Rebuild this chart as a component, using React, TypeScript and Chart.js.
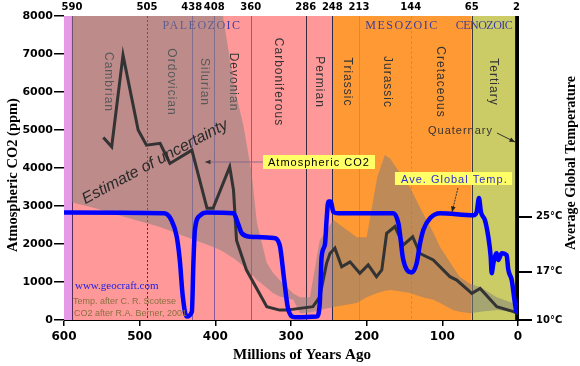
import React, { useEffect, useRef } from "react";
import { Chart, registerables } from "chart.js";
Chart.register(...registerables);

// ---- Data (millions of years ago) ----
const co2Age = [548, 537, 522, 502, 491, 473, 460, 431, 411, 403, 381, 376, 372, 359, 332, 315, 306, 271, 262, 253, 248.5, 242, 233, 222, 209, 198, 187, 180, 173.6, 162.6, 151.6, 139.2, 129.5, 112, 90, 81, 61, 50, 28, 6, 0];
const co2Ppm = [4800, 4560, 6970, 5000, 4600, 4650, 4120, 4470, 2940, 2940, 4030, 3420, 2100, 1320, 350, 260, 260, 350, 610, 1490, 1750, 1890, 1400, 1530, 1230, 1450, 1140, 1320, 2280, 2460, 1970, 2190, 1750, 1580, 1140, 1050, 700, 830, 350, 220, 170];

const tempAge = [600, 468, 458, 451, 447, 443, 438, 431, 429, 427, 420, 411, 376, 370, 365, 354, 323, 315, 309, 304, 295, 266, 262, 259.5, 255, 253, 250.7, 247.6, 244, 237.5, 165, 158, 155, 152.4, 147, 140.5, 134, 129.5, 125, 116, 103, 59, 54.6, 51.6, 49, 43.7, 39.3, 36.1, 34.8, 32.6, 28.2, 26, 21.5, 15, 12.8, 8.3, 4, 1.7, 0];
const tempC = [25.6, 25.5, 24.5, 22.1, 18.7, 13.4, 10.5, 11.2, 18.2, 23.1, 25.2, 25.6, 25.5, 24.0, 22.6, 22.1, 21.9, 20.9, 15.8, 11.7, 10.4, 10.5, 12.4, 19.2, 21.1, 24.5, 27.2, 27.2, 25.7, 25.5, 25.5, 24.0, 21.6, 19.2, 17.3, 16.9, 18.2, 21.1, 23.1, 24.8, 25.5, 25.2, 25.7, 27.7, 25.7, 24.5, 22.1, 19.2, 16.8, 18.2, 19.7, 18.7, 19.7, 19.4, 17.3, 15.8, 12.4, 11.2, 12.4];

const uncAge = [590, 560, 539, 500, 473, 440, 400, 390, 374, 363, 352, 345, 332, 324, 315, 297, 288, 275, 262, 244, 213, 200, 186, 176, 169, 165, 143, 126, 112, 103, 86, 77, 63, 50, 28, 7, 0];
const uncHigh = [9000, 9000, 9000, 9000, 9000, 9000, 9000, 8000, 6050, 5130, 3870, 2550, 1500, 1250, 1050, 700, 600, 600, 2100, 2630, 2180, 2180, 3760, 4340, 4250, 4130, 3500, 2820, 2300, 1920, 1400, 1130, 950, 870, 600, 450, 450];
const uncLow = [3100, 2950, 2820, 2600, 2450, 2200, 1900, 1800, 1600, 1420, 1200, 1050, 850, 710, 620, 530, 180, 200, 260, 340, 450, 600, 710, 770, 790, 780, 710, 600, 530, 450, 260, 220, 180, 220, 260, 210, 210];

// Period boundaries as drawn, with their top labels
const boundaryAge = [589.4, 490.3, 431.2, 401.4, 353.3, 280.6, 245.4, 210.1, 141.8, 61.2, 2];
const boundaryLabels = ["590", "505", "438", "408", "360", "286", "248", "213", "144", "65", "2"];

// Era colour bands
const bandFrom = [600, 589.4, 245.4, 61.2, 3.8];
const bandTo = [589.4, 245.4, 61.2, 3.8, 0];
const bandColor = ["#E699E6", "#FF9999", "#FF9933", "#CCCC66", "#000000"];

const periodNames = ["Cambrian", "Ordovician", "Silurian", "Devonian", "Carboniferous", "Permian", "Triassic", "Jurassic", "Cretaceous", "Tertiary"];
const periodLabelAge = [541.9, 458.6, 415, 376.7, 317.2, 263, 226, 173.1, 103.1, 33];

const eraNames = ["PALEOZOIC", "MESOZOIC", "CENOZOIC"];
const eraLabelAge = [417.6, 153.3, 44.9];

const xTicks = [600, 500, 400, 300, 200, 100, 0];
const yTicks = [0, 1000, 2000, 3000, 4000, 5000, 6000, 7000, 8000];
const tempTicks = [10, 17, 25];

const lineColors = ["#5a2a5a", "#3a3a3a", "#8a5a9a", "#8a5a9a", "#8a5a9a", "#3a2a3a", "#2a2a50", "#b89a3a", "#b89a3a", "#3a3a3a"];
const lineDash = [[], [2, 2], [], [], [], [], [], [], [3, 2], []];

function arrow(ctx: CanvasRenderingContext2D, x1: number, y1: number, x2: number, y2: number, color: string, head: string, dash: number[] = []) {
  ctx.save();
  ctx.strokeStyle = color;
  ctx.lineWidth = 1;
  ctx.setLineDash(dash);
  ctx.beginPath();
  ctx.moveTo(x1, y1);
  ctx.lineTo(x2, y2);
  ctx.stroke();
  ctx.setLineDash([]);
  const a = Math.atan2(y2 - y1, x2 - x1);
  const L = 6;
  ctx.fillStyle = head;
  ctx.beginPath();
  ctx.moveTo(x2, y2);
  ctx.lineTo(x2 - L * Math.cos(a - 0.4), y2 - L * Math.sin(a - 0.4));
  ctx.lineTo(x2 - L * Math.cos(a + 0.4), y2 - L * Math.sin(a + 0.4));
  ctx.closePath();
  ctx.fill();
  ctx.restore();
}

const decor = {
  id: "decor",
  beforeDatasetsDraw(chart: any) {
    const { ctx, chartArea: a, scales } = chart;
    const x = scales.x, y = scales.y;
    ctx.save();
    ctx.beginPath();
    ctx.rect(a.left, a.top, a.right - a.left, a.bottom - a.top);
    ctx.clip();
    for (let i = 0; i < bandFrom.length; i++) {
      const x1 = x.getPixelForValue(bandFrom[i]);
      const x2 = x.getPixelForValue(bandTo[i]);
      ctx.fillStyle = bandColor[i];
      ctx.fillRect(x1, a.top, x2 - x1, a.bottom - a.top);
    }
    for (let i = 0; i < lineColors.length; i++) {
      const px = Math.round(x.getPixelForValue(boundaryAge[i])) + 0.5;
      ctx.strokeStyle = lineColors[i];
      ctx.lineWidth = 1;
      ctx.setLineDash(lineDash[i]);
      ctx.beginPath();
      ctx.moveTo(px, a.top);
      ctx.lineTo(px, a.bottom);
      ctx.stroke();
    }
    ctx.setLineDash([]);
    // period names
    ctx.fillStyle = "#333333";
    ctx.font = '12px "Liberation Sans"';
    (ctx as any).letterSpacing = "1px";
    ctx.textAlign = "center";
    ctx.textBaseline = "middle";
    for (let i = 0; i < periodNames.length; i++) {
      ctx.save();
      ctx.translate(x.getPixelForValue(periodLabelAge[i]), y.getPixelForValue(6263));
      ctx.rotate(Math.PI / 2);
      ctx.fillText(periodNames[i], 0, 0);
      ctx.restore();
    }
    // era names
    ctx.fillStyle = "#3d3d9e";
    ctx.font = '12px "Liberation Serif"';
    const spacing = ["1.5px", "1.5px", "-0.5px"];
    for (let i = 0; i < eraNames.length; i++) {
      (ctx as any).letterSpacing = spacing[i];
      ctx.fillText(eraNames[i], x.getPixelForValue(eraLabelAge[i]), y.getPixelForValue(7737));
    }
    ctx.restore();
  },
  afterDatasetsDraw(chart: any) {
    const { ctx, scales } = chart;
    const x = scales.x, y = scales.y;
    const P = (m: number, v: number) => [x.getPixelForValue(m), y.getPixelForValue(v)];
    ctx.save();
    // Estimate of uncertainty
    const [ex, ey] = P(479.7, 4158);
    ctx.save();
    ctx.translate(ex, ey);
    ctx.rotate((-28 * Math.PI) / 180);
    ctx.font = 'italic 16px "Liberation Sans"';
    ctx.fillStyle = "#2a2a2a";
    ctx.textAlign = "center";
    ctx.textBaseline = "middle";
    ctx.fillText("Estimate of uncertainty", 0, 0);
    ctx.restore();

    // CO2 label box
    const [b1x, b1y] = P(337, 4342);
    const [b2x, b2y] = P(189, 3974);
    ctx.fillStyle = "#FFFF66";
    ctx.fillRect(b1x, b1y, b2x - b1x, b2y - b1y);
    const [ax1, ay1] = P(337, 4158);
    const [ax2, ay2] = P(413.7, 4158);
    arrow(ctx, ax1, ay1, ax2, ay2, "#8a6a8a", "#333333");
    ctx.font = '11px "Liberation Sans"';
    (ctx as any).letterSpacing = "1px";
    ctx.fillStyle = "#000000";
    ctx.textAlign = "left";
    ctx.textBaseline = "middle";
    const [t1x, t1y] = P(330.4, 4158);
    ctx.fillText("Atmospheric CO2", t1x, t1y + 1);

    // Temp label box
    const [c1x, c1y] = P(162.6, 3895);
    const [c2x, c2y] = P(7.9, 3553);
    ctx.fillStyle = "#FFFF66";
    ctx.fillRect(c1x, c1y, c2x - c1x, c2y - c1y);
    ctx.fillStyle = "#3030D0";
    const [t2x, t2y] = P(154.6, 3724);
    ctx.fillText("Ave. Global Temp.", t2x, t2y + 1);
    const [q1x, q1y] = P(79.3, 3474);
    const [q2x, q2y] = P(87.2, 2842);
    arrow(ctx, q1x, q1y, q2x, q2y, "#333333", "#222222", [2, 1]);

    // Quaternary
    ctx.fillStyle = "#333333";
    ctx.textAlign = "center";
    const [t3x, t3y] = P(76, 4974);
    ctx.fillText("Quaternary", t3x, t3y);
    const [r1x, r1y] = P(27.8, 4921);
    const [r2x, r2y] = P(3.96, 4684);
    arrow(ctx, r1x, r1y, r2x, r2y, "#333333", "#222222");

    // credits
    (ctx as any).letterSpacing = "0px";
    ctx.textAlign = "left";
    ctx.fillStyle = "#2020E0";
    ctx.font = '11px "Liberation Serif"';
    const [f1x, f1y] = P(585.5, 895);
    ctx.fillText("www.geocraft.com", f1x, f1y);
    ctx.fillStyle = "#8a7040";
    ctx.font = '9px "Liberation Sans"';
    const [f2x, f2y] = P(588.1, 487);
    ctx.fillText("Temp. after C. R. Scotese", f2x, f2y);
    const [f3x, f3y] = P(586.8, 158);
    ctx.fillText("CO2 after R.A. Berner, 2001", f3x, f3y);
    ctx.restore();
  },
  afterDraw(chart: any) {
    const { ctx } = chart;
    ctx.save();
    ctx.fillStyle = "#000000";
    ctx.textAlign = "center";
    ctx.textBaseline = "middle";
    ctx.font = 'bold 14.5px "Liberation Serif"';
    ctx.save();
    ctx.translate(13, 175);
    ctx.rotate(-Math.PI / 2);
    ctx.fillText("Atmospheric CO2 (ppm)", 0, 0);
    ctx.restore();
    ctx.font = 'bold 14px "Liberation Serif"';
    ctx.save();
    ctx.translate(571, 163);
    ctx.rotate(-Math.PI / 2);
    ctx.fillText("Average Global Temperature", 0, 0);
    ctx.restore();
    ctx.font = 'bold 15px "Liberation Serif"';
    ctx.fillText("Millions of Years Ago", 302, 355);
    ctx.restore();
  },
};

export default function App() {
  const ref = useRef<HTMLCanvasElement | null>(null);
  useEffect(() => {
    if (!ref.current) return;
    const tickFont = { family: "DejaVu Sans", weight: "bold" as const, size: 11 };
    const chart = new Chart(ref.current, {
      type: "line",
      data: {
        datasets: [
          {
            label: "Ave. Global Temp.",
            data: tempAge.map((a, i) => ({ x: a, y: tempC[i] })),
            yAxisID: "y2",
            xAxisID: "x",
            borderColor: "#0000FF",
            borderWidth: 4.5,
            pointRadius: 0,
            cubicInterpolationMode: "monotone",
            fill: false,
            order: 0,
          },
          {
            label: "Atmospheric CO2",
            data: co2Age.map((a, i) => ({ x: a, y: co2Ppm[i] })),
            yAxisID: "y",
            xAxisID: "x",
            borderColor: "#333333",
            borderWidth: 3,
            pointRadius: 0,
            tension: 0,
            fill: false,
            order: 1,
          },
          {
            label: "Uncertainty high",
            data: uncAge.map((a, i) => ({ x: a, y: uncHigh[i] })),
            yAxisID: "y",
            xAxisID: "x",
            borderWidth: 0,
            borderColor: "rgba(0,0,0,0)",
            backgroundColor: "rgba(125,125,125,0.5)",
            pointRadius: 0,
            fill: "+1",
            order: 2,
          },
          {
            label: "Uncertainty low",
            data: uncAge.map((a, i) => ({ x: a, y: uncLow[i] })),
            yAxisID: "y",
            xAxisID: "x",
            borderWidth: 0,
            borderColor: "rgba(0,0,0,0)",
            pointRadius: 0,
            fill: false,
            order: 3,
          },
        ],
      },
      options: {
        responsive: false,
        devicePixelRatio: 1,
        animation: false,
        layout: { padding: 0 },
        plugins: { legend: { display: false }, tooltip: { enabled: false } },
        scales: {
          x: {
            type: "linear",
            position: "bottom",
            min: 0,
            max: 600,
            reverse: true,
            afterBuildTicks: (s: any) => { s.ticks = xTicks.map((v) => ({ value: v })); },
            ticks: { font: { ...tickFont, size: 12 }, color: "#000", padding: 4, maxRotation: 0, autoSkip: false },
            grid: { drawOnChartArea: false, drawTicks: true, tickLength: 6, color: "#000", lineWidth: 1.5 },
            border: { display: true, color: "#000", width: 1 },
            afterFit: (s: any) => { s.height = 46; },
          },
          xTop: {
            type: "linear",
            position: "top",
            min: 0,
            max: 600,
            reverse: true,
            afterBuildTicks: (s: any) => { s.ticks = boundaryAge.map((v) => ({ value: v })); },
            ticks: { font: { ...tickFont, size: 10 }, color: "#000", padding: 3, maxRotation: 0, autoSkip: false, callback: (_v: any, i: number) => boundaryLabels[i] },
            grid: { display: false, drawTicks: false },
            border: { display: false },
            afterFit: (s: any) => { s.height = 16; },
          },
          y: {
            type: "linear",
            position: "left",
            min: 0,
            max: 8000,
            afterBuildTicks: (s: any) => { s.ticks = yTicks.map((v) => ({ value: v })); },
            ticks: { font: tickFont, color: "#000", padding: 1, callback: (v: any) => String(v) },
            grid: { drawOnChartArea: false, tickLength: 10, color: "#000", lineWidth: 1.5 },
            border: { display: true, color: "#000", width: 1 },
            afterFit: (s: any) => { s.width = 64; },
          },
          y2: {
            type: "linear",
            position: "right",
            min: 10,
            max: 54.14,
            afterBuildTicks: (s: any) => { s.ticks = tempTicks.map((v) => ({ value: v })); },
            ticks: { font: { ...tickFont, size: 10 }, color: "#000", padding: 4, callback: (v: any) => v + "°C" },
            grid: { drawOnChartArea: false, tickLength: 14, color: "#000", lineWidth: 2 },
            border: { display: true, color: "#000", width: 1 },
            afterFit: (s: any) => { s.width = 62; },
          },
        },
      },
      plugins: [decor],
    } as any);
    return () => chart.destroy();
  }, []);
  return (
    <div style={{ position: "fixed", left: 0, top: 0, width: 580, height: 366, background: "#fff" }}>
      <canvas ref={ref} width={580} height={366} style={{ display: "block" }} />
    </div>
  );
}
